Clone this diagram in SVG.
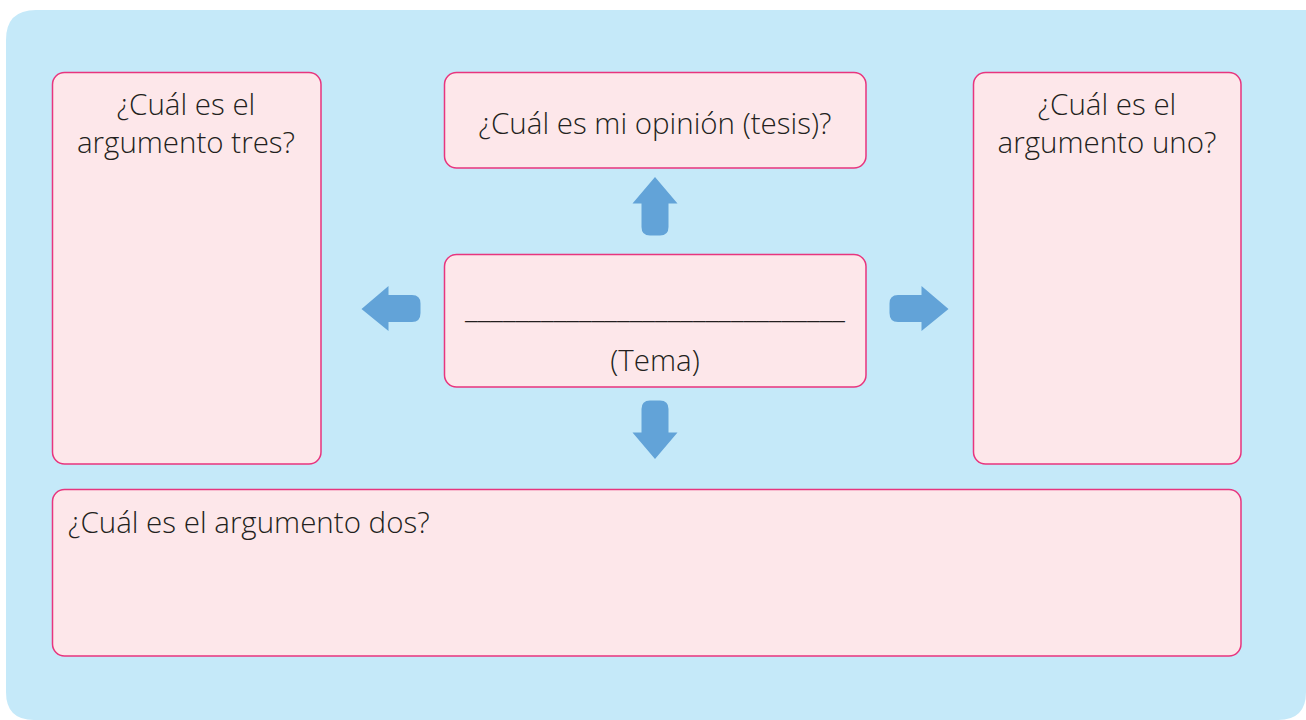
<svg xmlns="http://www.w3.org/2000/svg" width="1306" height="720" viewBox="0 0 1306 720">
<style>
.box{fill:#fde7ea;stroke:#e8357e;stroke-width:1.5}
.t{font-family:"Open Sans","Noto Sans","Liberation Sans",sans-serif;font-weight:300;font-size:29.5px;fill:#231f20}
.arr{fill:#62a3d8}
</style>
<rect width="1306" height="720" fill="#ffffff"/>
<path d="M36 10 H1306 V692 Q1306 720 1278 720 H34 Q6 720 6 692 V40 Q6 10 36 10 Z" fill="#c5e9f9"/>
<g id="node-tres">
<rect class="box" x="52.5" y="72.5" width="268.5" height="391.5" rx="12"/>
<text class="t" x="186" y="115" text-anchor="middle">¿Cuál es el</text>
<text class="t" x="186" y="153" text-anchor="middle">argumento tres?</text>
</g>
<g id="node-tesis">
<rect class="box" x="444.5" y="72.5" width="421.5" height="95.5" rx="12"/>
<text class="t" x="655" y="134" text-anchor="middle">¿Cuál es mi opinión (tesis)?</text>
</g>
<g id="node-uno">
<rect class="box" x="973.5" y="72.5" width="267.5" height="391.5" rx="12"/>
<text class="t" x="1107" y="115" text-anchor="middle">¿Cuál es el</text>
<text class="t" x="1107" y="153" text-anchor="middle">argumento uno?</text>
</g>
<g id="node-tema">
<rect class="box" x="444.5" y="254.5" width="421.5" height="132.5" rx="12"/>
<text class="t" x="465" y="318" textLength="380" lengthAdjust="spacingAndGlyphs">______________________________</text>
<text class="t" x="655" y="371" text-anchor="middle">(Tema)</text>
</g>
<g id="node-dos">
<rect class="box" x="52.5" y="489.5" width="1188.5" height="166.5" rx="12"/>
<text class="t" x="68" y="533">¿Cuál es el argumento dos?</text>
</g>
<g id="connectors">
<path class="arr" d="M655 177 L677.5 203.5 H668.5 V227 Q668.5 235.5 660 235.5 H650 Q641.5 235.5 641.5 227 V203.5 H632.5 Z"/>
<path class="arr" d="M655 459 L677.5 432.5 H668.5 V409 Q668.5 400.5 660 400.5 H650 Q641.5 400.5 641.5 409 V432.5 H632.5 Z"/>
<path class="arr" d="M361.5 309 L388.5 286 V295 H412 Q420.5 295 420.5 303.5 V313 Q420.5 322 412 322 H388.5 V331 Z"/>
<path class="arr" d="M948.5 309 L921.5 286 V295 H898 Q889.5 295 889.5 303.5 V313 Q889.5 322 898 322 H921.5 V331 Z"/>
</g>
</svg>
